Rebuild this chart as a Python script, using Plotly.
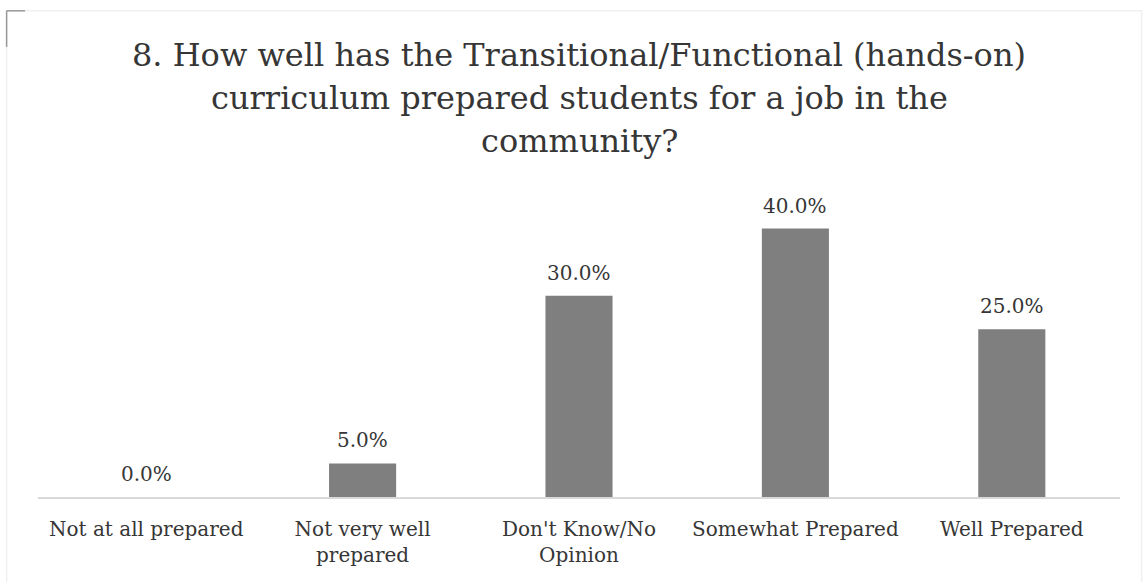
import plotly.graph_objects as go

# Survey responses (% of respondents)
categories = ["Not at all prepared", "Not very well prepared", "Don't Know/No Opinion",
              "Somewhat Prepared", "Well Prepared"]
tick_labels = ["Not at all prepared", "Not very well<br>prepared", "Don't Know/No<br>Opinion",
               "Somewhat Prepared", "Well Prepared"]
percentages = [0.0, 5.0, 30.0, 40.0, 25.0]

title_lines = ["8. How well has the Transitional/Functional (hands-on)",
               "curriculum prepared students for a job in the",
               "community?"]

FONT = "DejaVu Serif, Liberation Serif, serif"
TEXT = "#363636"

W, H = 1148, 582
M_L, M_R, M_T, M_B = 38, 28, 195, 85
PLOT_H = H - M_T - M_B


def paper_y(px):
    """Convert a pixel row (from the top) to paper y coordinates."""
    return (H - M_B - px) / PLOT_H


fig = go.Figure(
    go.Bar(
        x=categories,
        y=percentages,
        marker=dict(color="#7f7f7f", line=dict(width=0)),
        width=0.31,
        hoverinfo="x+y",
    )
)

# Value labels above each bar
for cat, val in zip(categories, percentages):
    fig.add_annotation(
        x=cat, y=val, xref="x", yref="y",
        text=f"{val:.1f}%", showarrow=False,
        yanchor="bottom", yshift=9,
        font=dict(family=FONT, size=20, color=TEXT),
    )

# Centered three-line title
for i, line in enumerate(title_lines):
    fig.add_annotation(
        x=0.5, y=paper_y(55 + 43 * i), xref="paper", yref="paper",
        text=line, showarrow=False, xanchor="center", yanchor="middle",
        font=dict(family=FONT, size=32, color=TEXT),
    )

fig.update_layout(
    width=W,
    height=H,
    paper_bgcolor="white",
    plot_bgcolor="white",
    margin=dict(l=M_L, r=M_R, t=M_T, b=M_B),
    showlegend=False,
    xaxis=dict(
        tickmode="array",
        tickvals=categories,
        ticktext=tick_labels,
        tickfont=dict(family=FONT, size=20, color=TEXT),
        showline=True,
        linecolor="#d9d9d9",
        linewidth=1.5,
        showgrid=False,
        ticks="",
        ticklabelstandoff=13,
    ),
    yaxis=dict(range=[0, 45], visible=False, showgrid=False, zeroline=False),
)

# Faint frame around the chart area
fig.add_shape(type="rect", xref="paper", yref="paper",
              x0=-0.029, x1=1.02, y0=-0.5, y1=1.61,
              line=dict(color="#f0f0f0", width=1.5))
fig.add_shape(type="line", xref="paper", yref="paper",
              x0=-0.029, x1=-0.029, y0=1.49, y1=1.61,
              line=dict(color="#9a9a9a", width=1.5))
fig.add_shape(type="line", xref="paper", yref="paper",
              x0=-0.029, x1=-0.012, y0=1.61, y1=1.61,
              line=dict(color="#9a9a9a", width=1.5))

fig.write_html("out.html")
